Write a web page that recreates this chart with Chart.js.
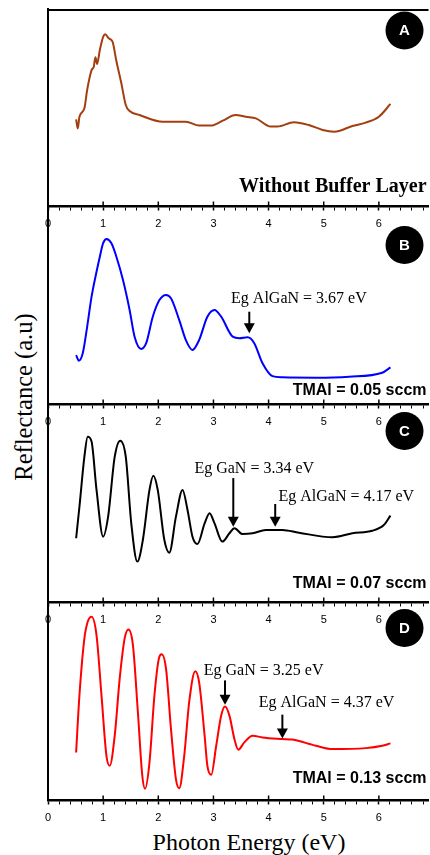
<!DOCTYPE html>
<html>
<head>
<meta charset="utf-8">
<script src="https://cdn.jsdelivr.net/npm/chart.js@4.4.1/dist/chart.umd.min.js"></script>
<style>
  html, body { margin: 0; padding: 0; background: #fff; }
  #wrap { position: relative; width: 430px; height: 855px; overflow: hidden; }
  canvas { position: absolute; left: 0; }
  .title {
    position: absolute;
    font-family: "Liberation Serif", serif;
    font-size: 24px;
    color: #000;
    white-space: nowrap;
    transform: translate(-50%, -50%);
  }
  #ytitle { left: 24px; top: 397px; font-size: 24.5px; transform: translate(-50%, -50%) rotate(-90deg); }
  #xtitle { left: 249px; top: 842px; }
</style>
</head>
<body>
<div id="wrap">
  <div class="title" id="ytitle">Reflectance (a.u)</div>
  <div class="title" id="xtitle">Photon Energy (eV)</div>
</div>
<script>
// photon energy (eV) and reflectance (a.u., 0-100 of each panel)

// A - without buffer layer
const aEnergy = [0.51, 0.54, 0.57, 0.66, 0.71, 0.79, 0.83, 0.86, 0.89, 0.94, 1.00, 1.04, 1.10, 1.17, 1.24, 1.33, 1.41, 1.48, 1.66, 2.08, 2.50, 2.74, 2.96, 3.17, 3.40, 3.59, 3.77, 4.04, 4.16, 4.46, 4.73, 4.98, 5.19, 5.52, 5.76, 6.00, 6.21];
const aRefl = [44.0, 39.4, 45.3, 49.6, 58.9, 69.0, 70.7, 75.5, 72.1, 79.2, 85.9, 87.2, 85.1, 83.4, 73.6, 62.3, 51.3, 48.2, 46.2, 42.8, 42.8, 40.8, 40.8, 43.3, 46.2, 45.3, 44.5, 40.3, 40.3, 42.5, 41.1, 38.6, 37.7, 40.6, 42.3, 45.3, 51.8];

// B - TMAl = 0.05 sccm
const bEnergy = [0.51, 0.56, 0.63, 0.71, 0.79, 0.88, 0.94, 1.00, 1.06, 1.15, 1.24, 1.36, 1.48, 1.57, 1.69, 1.78, 1.90, 2.02, 2.14, 2.23, 2.38, 2.50, 2.62, 2.74, 2.89, 3.02, 3.14, 3.35, 3.47, 3.62, 3.74, 3.89, 4.07, 4.25, 4.86, 5.46, 6.06, 6.21];
const bRefl = [24.7, 21.9, 25.6, 39.0, 54.2, 66.8, 74.4, 81.2, 83.3, 81.2, 74.4, 62.6, 47.5, 34.0, 27.8, 30.7, 44.1, 52.5, 55.1, 53.4, 42.4, 32.3, 27.3, 32.3, 44.1, 47.5, 44.1, 34.0, 33.2, 33.7, 30.7, 20.6, 14.1, 13.5, 13.3, 13.8, 15.8, 18.5];

// C - TMAl = 0.07 sccm
const cEnergy = [0.51, 0.57, 0.66, 0.72, 0.79, 0.88, 1.00, 1.09, 1.21, 1.31, 1.41, 1.51, 1.62, 1.72, 1.84, 1.91, 1.99, 2.11, 2.20, 2.32, 2.44, 2.53, 2.62, 2.71, 2.84, 2.93, 3.02, 3.16, 3.29, 3.38, 3.53, 3.71, 3.95, 4.25, 4.55, 5.16, 5.52, 5.88, 6.09, 6.21];
const cRefl = [32.2, 48.1, 73.4, 83.5, 81.0, 56.6, 33.0, 43.1, 73.4, 81.5, 73.4, 39.7, 20.4, 31.3, 56.6, 63.8, 56.6, 31.3, 24.9, 43.1, 56.6, 46.5, 33.0, 29.3, 39.7, 44.8, 39.7, 30.5, 34.7, 37.2, 34.3, 34.7, 36.4, 36.4, 35.0, 32.7, 34.7, 36.0, 38.9, 43.6];

// D - TMAl = 0.13 sccm
const dEnergy = [0.51, 0.57, 0.66, 0.72, 0.79, 0.88, 0.97, 1.06, 1.12, 1.21, 1.30, 1.39, 1.46, 1.54, 1.63, 1.71, 1.76, 1.84, 1.93, 2.01, 2.06, 2.14, 2.23, 2.32, 2.38, 2.47, 2.56, 2.67, 2.74, 2.84, 2.89, 2.96, 3.05, 3.14, 3.21, 3.29, 3.38, 3.45, 3.56, 3.71, 3.89, 4.25, 4.43, 4.86, 5.16, 5.76, 6.06, 6.21];
const dRefl = [24.0, 52.8, 81.6, 90.0, 92.5, 83.2, 52.8, 22.3, 17.3, 32.5, 61.3, 81.6, 86.1, 78.2, 44.3, 12.2, 5.7, 18.9, 52.8, 71.4, 73.6, 66.3, 35.9, 10.5, 5.9, 22.3, 49.4, 65.0, 59.5, 32.5, 17.3, 12.7, 27.4, 42.6, 47.2, 42.6, 30.8, 25.4, 29.1, 32.5, 31.6, 30.8, 30.5, 27.4, 25.7, 26.2, 27.4, 28.6];

// band gap marks: label, label pos (eV, a.u.), arrow x (eV), arrow from/to (a.u.)
const bNotes = [
  { text: "Eg AlGaN = 3.67 eV", tx: 4.55, ty: 53.0, ax: 3.65, from: 46.6, to: 35.7 }
];
const cNotes = [
  { text: "Eg GaN = 3.34 eV", tx: 3.74, ty: 67.2, ax: 3.36, from: 62.6, to: 38.0 },
  { text: "Eg AlGaN = 4.17 eV", tx: 5.41, ty: 53.2, ax: 4.12, from: 49.5, to: 38.0 }
];
const dNotes = [
  { text: "Eg GaN = 3.25 eV", tx: 3.91, ty: 65.5, ax: 3.21, from: 60.4, to: 48.1 },
  { text: "Eg AlGaN = 4.37 eV", tx: 5.05, ty: 48.9, ax: 4.25, from: 43.1, to: 31.1 }
];

const panels = [
  { letter: "A", top: 9, bottom: 206, energy: aEnergy, refl: aRefl, color: "#a33f0e", notes: [],
    caption: "Without Buffer Layer", captionFont: 'bold 20px "Liberation Serif"', captionUp: 19, badgeDown: 21.5, frameTop: true },
  { letter: "B", top: 206, bottom: 404, energy: bEnergy, refl: bRefl, color: "#0000ff", notes: bNotes,
    caption: "TMAl = 0.05 sccm", captionFont: 'bold 16px "Liberation Sans"', captionUp: 13.5, badgeDown: 39 },
  { letter: "C", top: 404, bottom: 602, energy: cEnergy, refl: cRefl, color: "#000000", notes: cNotes,
    caption: "TMAl = 0.07 sccm", captionFont: 'bold 16px "Liberation Sans"', captionUp: 18, badgeDown: 27 },
  { letter: "D", top: 602, bottom: 800, energy: dEnergy, refl: dRefl, color: "#ff0000", notes: dNotes,
    caption: "TMAl = 0.13 sccm", captionFont: 'bold 16px "Liberation Sans"', captionUp: 21.5, badgeDown: 26 }
];

const PAD_TOP = 10;
const AXIS_H = 30;

// frame top, upward half of major ticks, arrows, notes, badges, captions
const panelDecor = {
  id: "panelDecor",
  afterDraw(chart, args, opts) {
    const p = opts.panel;
    const { ctx, chartArea: area } = chart;
    const xs = chart.scales.x;
    const ys = chart.scales.y;
    ctx.save();
    ctx.strokeStyle = "#000";
    ctx.fillStyle = "#000";

    if (p.frameTop) {
      ctx.lineWidth = 2;
      ctx.beginPath();
      ctx.moveTo(area.left - 1, area.top + 1);
      ctx.lineTo(area.right, area.top + 1);
      ctx.stroke();
    }

    ctx.lineWidth = 1.5;
    xs.ticks.forEach((t) => {
      if (Math.abs(t.value - Math.round(t.value)) > 1e-6 || t.value === 0) return;
      const x = xs.getPixelForValue(t.value);
      ctx.beginPath();
      ctx.moveTo(x, area.bottom - 4.5);
      ctx.lineTo(x, area.bottom);
      ctx.stroke();
    });

    ctx.font = '16px "Liberation Serif"';
    ctx.textAlign = "center";
    ctx.textBaseline = "middle";
    p.notes.forEach((n) => {
      ctx.fillText(n.text, xs.getPixelForValue(n.tx), ys.getPixelForValue(n.ty));
      const x = xs.getPixelForValue(n.ax);
      const y1 = ys.getPixelForValue(n.from);
      const y2 = ys.getPixelForValue(n.to);
      ctx.lineWidth = 2;
      ctx.beginPath();
      ctx.moveTo(x, y1);
      ctx.lineTo(x, y2 - 8);
      ctx.stroke();
      ctx.beginPath();
      ctx.moveTo(x - 5.5, y2 - 10);
      ctx.lineTo(x + 5.5, y2 - 10);
      ctx.lineTo(x, y2);
      ctx.closePath();
      ctx.fill();
    });

    // letter badge
    const cx = area.right - 24;
    const cy = area.top + p.badgeDown;
    ctx.beginPath();
    ctx.arc(cx, cy, 19, 0, Math.PI * 2);
    ctx.fill();
    ctx.fillStyle = "#fff";
    ctx.font = 'bold 15px "Liberation Sans"';
    ctx.fillText(p.letter, cx, cy + 0.5);

    ctx.fillStyle = "#000";
    ctx.font = p.captionFont;
    ctx.textAlign = "right";
    ctx.fillText(p.caption, area.right - 2, area.bottom - p.captionUp);
    ctx.restore();
  }
};

const wrap = document.getElementById("wrap");

panels.forEach((p) => {
  const canvas = document.createElement("canvas");
  const h = PAD_TOP + (p.bottom - p.top) + AXIS_H;
  canvas.width = 430;
  canvas.height = h;
  canvas.style.width = "430px";
  canvas.style.height = h + "px";
  canvas.style.top = (p.top - PAD_TOP) + "px";
  wrap.appendChild(canvas);

  const points = p.energy.map((e, i) => ({ x: e, y: p.refl[i] }));

  new Chart(canvas.getContext("2d"), {
    type: "line",
    data: {
      datasets: [{
        data: points,
        borderColor: p.color,
        borderWidth: 2,
        pointRadius: 0,
        fill: false,
        cubicInterpolationMode: "monotone"
      }]
    },
    options: {
      responsive: false,
      animation: false,
      devicePixelRatio: 1,
      layout: { padding: { top: PAD_TOP, left: 48, right: 0, bottom: 0 } },
      plugins: {
        legend: { display: false },
        tooltip: { enabled: false },
        panelDecor: { panel: p }
      },
      scales: {
        x: {
          type: "linear",
          min: 0,
          max: 6.9,
          afterFit: (s) => { s.height = AXIS_H; },
          border: { display: true, color: "#000", width: 2.5 },
          grid: {
            display: true,
            drawOnChartArea: false,
            drawTicks: true,
            tickLength: 4.5,
            tickColor: "#000",
            tickWidth: (c) => (c.tick && Number.isInteger(Math.round(c.tick.value * 1e6) / 1e6) ? 1.5 : 1)
          },
          ticks: {
            stepSize: 0.2,
            includeBounds: false,
            autoSkip: false,
            maxRotation: 0,
            padding: 7,
            color: "#000",
            font: { family: "Liberation Sans", size: 11 },
            callback: (v) => (Math.abs(v - Math.round(v)) < 1e-6 ? String(Math.round(v)) : "")
          }
        },
        y: {
          min: 0,
          max: 100,
          afterFit: (s) => { s.width = 0; },
          border: { display: true, color: "#000", width: 2 },
          grid: { display: false },
          ticks: { display: false }
        }
      }
    },
    plugins: [panelDecor]
  });
});
</script>
</body>
</html>
